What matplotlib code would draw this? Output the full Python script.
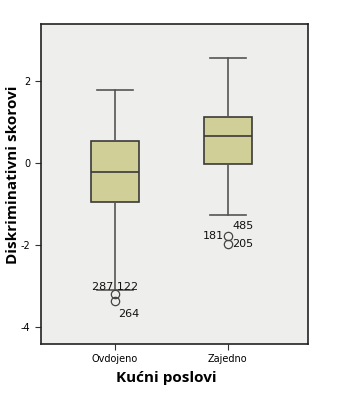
import matplotlib
matplotlib.use('Agg')
import matplotlib.pyplot as plt

# data
groups = ['Ovdojeno', 'Zajedno']
whisker_hi = [1.79, 2.57]
q3 = [0.53, 1.12]
medians = [-0.21, 0.65]
q1 = [-0.95, -0.02]
whisker_lo = [-3.10, -1.26]
outliers = [[-3.18, -3.37], [-1.77, -1.98]]
y_ticks = [-4, -2, 0, 2]

# outlier case labels: (group index, value, label, dx, dy, ha)
outlier_labels = [
    (0, -3.18, '287 122', 0, 5, 'center'),
    (0, -3.37, '264', 2, -9, 'left'),
    (1, -1.77, '485', 3, 7, 'left'),
    (1, -1.77, '181', -3, 0, 'right'),
    (1, -1.98, '205', 3, 0, 'left'),
]

stats = []
for i in range(len(groups)):
    stats.append({'med': medians[i], 'q1': q1[i], 'q3': q3[i],
                  'whislo': whisker_lo[i], 'whishi': whisker_hi[i],
                  'fliers': outliers[i], 'label': groups[i]})

fig = plt.figure(figsize=(3.42, 3.96), dpi=100)
ax = fig.add_axes([41 / 342, 1 - 344 / 396, 267 / 342, 320 / 396])
ax.set_facecolor('#eeeeec')

ax.bxp(stats, positions=[1, 2], widths=0.42, patch_artist=True,
       boxprops=dict(facecolor='#d0cf98', edgecolor='#3a3a3a', linewidth=1.2),
       medianprops=dict(color='#3a3a3a', linewidth=1.2),
       whiskerprops=dict(color='#555555', linewidth=1.2),
       capprops=dict(color='#555555', linewidth=1.2),
       capwidths=0.32,
       flierprops=dict(marker='o', markerfacecolor='none', markeredgecolor='#444444',
                       markersize=6, markeredgewidth=0.9))

for g, v, txt, dx, dy, ha in outlier_labels:
    ax.annotate(txt, (g + 1, v), xytext=(dx, dy), textcoords='offset points',
                ha=ha, va='center', fontsize=8, color='#111111')

ax.set_xlim(0.345, 2.71)
ax.set_ylim(-4.41, 3.39)
ax.set_yticks(y_ticks)
ax.set_yticklabels([str(t) for t in y_ticks])
ax.set_xticks([1, 2])
ax.set_xticklabels(groups)
ax.tick_params(labelsize=7, length=4, width=0.8, color='#333333')
for s in ax.spines.values():
    s.set_linewidth(1.2)
    s.set_color('#222222')

ax.set_xlabel('Kućni poslovi', fontsize=11, fontweight='bold', family='Open Sans')
ax.set_ylabel('Diskriminativni skorovi', fontsize=11, fontweight='bold', family='Open Sans')
ax.xaxis.set_label_coords(0.468, -0.106)
ax.yaxis.set_label_coords(-0.105, 0.528)
ax.xaxis.label.set_va('center')
ax.yaxis.label.set_va('center')

fig.savefig('out.png', dpi=100)
